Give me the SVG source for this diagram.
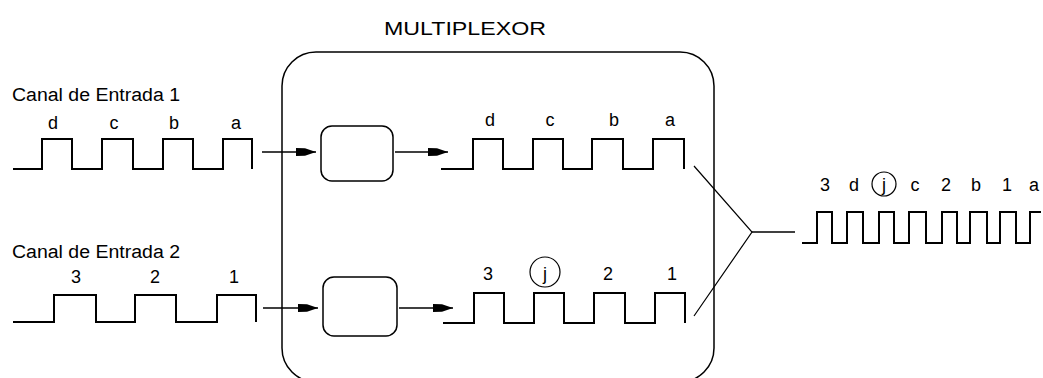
<svg xmlns="http://www.w3.org/2000/svg" width="1043" height="378" viewBox="0 0 1043 378">
  <style>
    text { font-family: "Liberation Sans", Arial, sans-serif; font-size: 18px; fill: #000; }
    .lbl { text-anchor: middle; }
    .wave { fill: none; stroke: #000; stroke-width: 2; stroke-linejoin: miter; }
    .box { fill: #fff; stroke: #000; stroke-width: 1.5; }
    .link { fill: none; stroke: #000; stroke-width: 1.5; }
    .thin { fill: none; stroke: #000; stroke-width: 1.2; }
    .ring { fill: none; stroke: #000; stroke-width: 1.2; }
  </style>
  <defs>
    <marker id="arrow" markerUnits="userSpaceOnUse" markerWidth="22" markerHeight="12" refX="20" refY="5" orient="auto">
      <path d="M0,1 L9,1.2 L20,5 L9,8.8 L0,9 Z" fill="#000"/>
    </marker>
  </defs>

  <rect width="1043" height="378" fill="#fff"/>

  <!-- multiplexer enclosure -->
  <g id="multiplexor">
    <rect class="box" x="282" y="52" width="432" height="330" rx="34" ry="34"/>
    <text x="465" y="35" text-anchor="middle" textLength="162" lengthAdjust="spacingAndGlyphs">MULTIPLEXOR</text>
  </g>

  <!-- input channel 1 -->
  <g id="canal1">
    <text x="12" y="101" textLength="168" lengthAdjust="spacingAndGlyphs">Canal de Entrada 1</text>
    <path class="wave" d="M13,169 H42 V139 H72 V169 H102 V139 H133 V169 H163 V139 H193 V169 H223 V139 H252 V169"/>
    <text class="lbl" x="53" y="129">d</text>
    <text class="lbl" x="114" y="129">c</text>
    <text class="lbl" x="174" y="129">b</text>
    <text class="lbl" x="236" y="129">a</text>
  </g>

  <!-- input channel 2 -->
  <g id="canal2">
    <text x="12" y="258" textLength="168" lengthAdjust="spacingAndGlyphs">Canal de Entrada 2</text>
    <path class="wave" d="M13,322 H54 V295 H96 V322 H135 V295 H176 V322 H217 V295 H256 V322"/>
    <text class="lbl" x="76" y="283">3</text>
    <text class="lbl" x="155" y="283">2</text>
    <text class="lbl" x="234" y="283">1</text>
  </g>

  <!-- inner buffers -->
  <g id="buffer1">
    <rect class="box" x="321" y="126" width="72" height="55" rx="11" ry="11"/>
  </g>
  <g id="buffer2">
    <rect class="box" x="323" y="277" width="74" height="59" rx="11" ry="11"/>
  </g>

  <!-- buffered channel 1 -->
  <g id="salida1">
    <path class="wave" d="M441,169 H473 V139 H503 V169 H533 V139 H563 V169 H592 V139 H623 V169 H653 V139 H684 V169"/>
    <text class="lbl" x="490" y="126">d</text>
    <text class="lbl" x="550" y="126">c</text>
    <text class="lbl" x="614" y="126">b</text>
    <text class="lbl" x="670" y="126">a</text>
  </g>

  <!-- buffered channel 2 -->
  <g id="salida2">
    <path class="wave" d="M443,323 H474 V293 H504 V323 H534 V293 H564 V323 H594 V293 H625 V323 H655 V293 H685 V323"/>
    <text class="lbl" x="488" y="280">3</text>
    <circle class="ring" cx="545" cy="272" r="15"/>
    <text class="lbl" x="545" y="280">j</text>
    <text class="lbl" x="608" y="280">2</text>
    <text class="lbl" x="672" y="280">1</text>
  </g>

  <!-- combined output stream -->
  <g id="salida">
    <path class="wave" d="M802,243 H817 V212 H832 V243 H847 V212 H863 V243 H879 V212 H894 V243 H909 V212 H926 V243 H942 V212 H957 V243 H970 V212 H987 V243 H1000 V212 H1016 V243 H1030 V212 H1041"/>
    <text class="lbl" x="825" y="191">3</text>
    <text class="lbl" x="854" y="191">d</text>
    <circle class="ring" cx="884" cy="184" r="12"/>
    <text class="lbl" x="884" y="191">j</text>
    <text class="lbl" x="915" y="191">c</text>
    <text class="lbl" x="946" y="191">2</text>
    <text class="lbl" x="976" y="191">b</text>
    <text class="lbl" x="1007" y="191">1</text>
    <text class="lbl" x="1034" y="191">a</text>
  </g>

  <!-- connectors -->
  <g id="conectores">
    <line class="link" x1="262" y1="152" x2="316" y2="152" marker-end="url(#arrow)"/>
    <line class="link" x1="395" y1="152" x2="448" y2="152" marker-end="url(#arrow)"/>
    <line class="link" x1="263" y1="308" x2="318" y2="308" marker-end="url(#arrow)"/>
    <line class="link" x1="399" y1="308" x2="453" y2="308" marker-end="url(#arrow)"/>
    <polyline class="thin" points="694,166 752,232 694,316"/>
    <line class="link" x1="752" y1="232" x2="795" y2="232"/>
  </g>
</svg>
